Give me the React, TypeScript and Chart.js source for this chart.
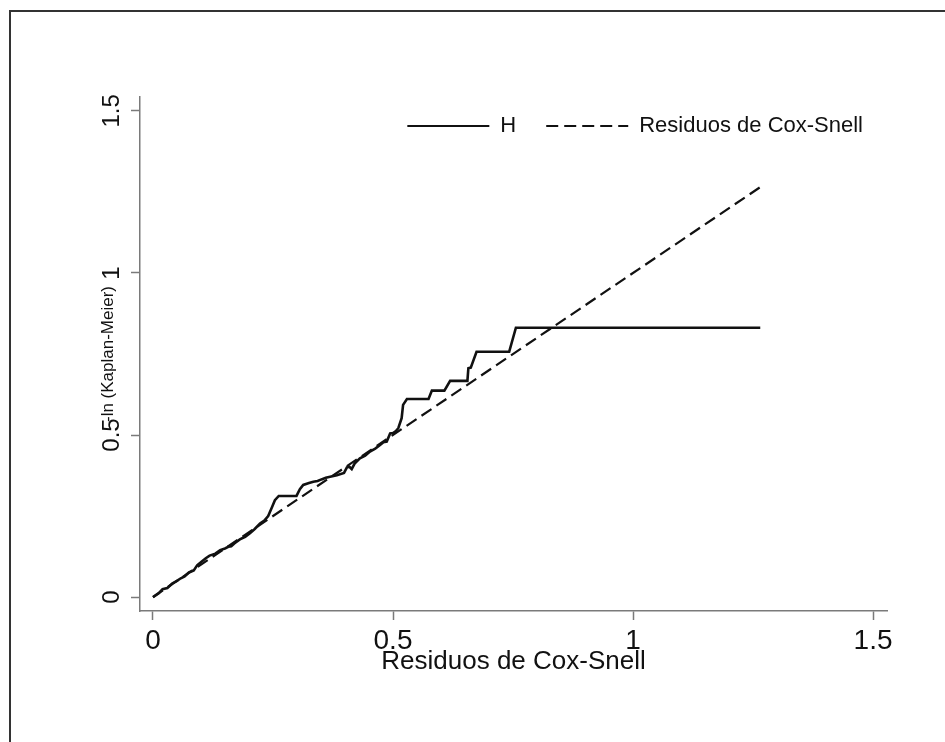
import { useEffect, useRef } from "react";
import { Chart, registerables } from "chart.js";

Chart.register(...registerables);

// Cox-Snell residuals (sorted) and the cumulative hazard H = -ln(KM) at each one
const coxSnell = [
  0.0, 0.012, 0.02, 0.03, 0.04, 0.05, 0.058, 0.066, 0.075, 0.085, 0.092, 0.101,
  0.11, 0.118, 0.13, 0.14, 0.15, 0.157, 0.163, 0.17, 0.181, 0.192, 0.202, 0.212,
  0.223, 0.232, 0.24, 0.247, 0.254, 0.262, 0.299, 0.306, 0.313, 0.325, 0.334,
  0.343, 0.351, 0.36, 0.369, 0.383, 0.398, 0.404, 0.409, 0.414, 0.42, 0.431,
  0.442, 0.452, 0.463, 0.473, 0.48, 0.487, 0.494, 0.5, 0.506, 0.511, 0.518,
  0.521, 0.529, 0.574, 0.581, 0.607, 0.619, 0.655, 0.657, 0.662, 0.674, 0.742,
  0.756, 1.265,
];
const cumHazard = [
  0.0, 0.012, 0.024, 0.028, 0.042, 0.05, 0.058, 0.064, 0.076, 0.082, 0.098, 0.109,
  0.12, 0.128, 0.134, 0.145, 0.15, 0.155, 0.157, 0.166, 0.178, 0.186, 0.197, 0.21,
  0.227, 0.236, 0.25, 0.274, 0.299, 0.312, 0.312, 0.333, 0.346, 0.352, 0.356,
  0.358, 0.363, 0.368, 0.371, 0.376, 0.383, 0.4, 0.402, 0.395, 0.412, 0.428,
  0.436, 0.449, 0.458, 0.469, 0.478, 0.48, 0.505, 0.506, 0.512, 0.521, 0.552,
  0.593, 0.611, 0.611, 0.637, 0.637, 0.667, 0.667, 0.706, 0.708, 0.757, 0.757,
  0.831, 0.831,
];

// 45-degree reference line (residual against itself)
const refX = [0, 1.265];
const refY = [0, 1.265];

const xTicks = [0, 0.5, 1, 1.5];
const yTicks = [0, 0.5, 1, 1.5];
const seriesNames = ["H", "Residuos de Cox-Snell"];
const xTitle = "Residuos de Cox-Snell";
const yTitle = "-ln (Kaplan-Meier)";

const FONT = "'Liberation Sans', Arial, sans-serif";
const AXIS_GREY = "#7a7a7a";

// Pull the legend row down into the plot region, just under its top edge.
const legendInPlot = {
  id: "legendInPlot",
  afterLayout(chart: any) {
    const lg = chart.legend;
    if (!lg) return;
    const area = chart.chartArea;
    const h = lg.height;
    lg.left = area.left;
    lg.right = area.right + 6;
    lg.width = lg.right - lg.left;
    lg.top = area.top - 12;
    lg.bottom = lg.top + h;
  },
};

export default function App() {
  const canvasRef = useRef<HTMLCanvasElement | null>(null);

  useEffect(() => {
    const canvas = canvasRef.current;
    if (!canvas) return;

    const defaultLabels = (Chart.defaults as any).plugins.legend.labels.generateLabels;

    const chart = new Chart(canvas, {
      type: "scatter",
      data: {
        datasets: [
          {
            label: seriesNames[0],
            data: coxSnell.map((x, i) => ({ x, y: cumHazard[i] })),
            showLine: true,
            borderColor: "#111111",
            backgroundColor: "rgba(0,0,0,0)",
            borderWidth: 2.6,
            pointRadius: 0,
            tension: 0,
          },
          {
            label: seriesNames[1],
            data: refX.map((x, i) => ({ x, y: refY[i] })),
            showLine: true,
            borderColor: "#111111",
            backgroundColor: "rgba(0,0,0,0)",
            borderWidth: 2.2,
            borderDash: [12, 6],
            pointRadius: 0,
            tension: 0,
          },
        ],
      },
      options: {
        animation: false,
        responsive: false,
        devicePixelRatio: 1,
        layout: { padding: { left: 0, right: 58, top: 35, bottom: 0 } },
        plugins: {
          tooltip: { enabled: false },
          legend: {
            display: true,
            position: "top",
            align: "end",
            labels: {
              usePointStyle: true,
              pointStyle: "line",
              pointStyleWidth: 82,
              boxHeight: 22,
              padding: 30,
              color: "#111111",
              font: { family: FONT, size: 22 },
              // legend samples take the line width and dash of their series
              generateLabels: (c: any) =>
                defaultLabels(c).map((item: any) => {
                  const ds = c.data.datasets[item.datasetIndex];
                  return {
                    ...item,
                    strokeStyle: ds.borderColor,
                    fillStyle: "rgba(0,0,0,0)",
                    lineWidth: 2,
                    lineDash: ds.borderDash || [],
                  };
                }),
            },
          },
        },
        scales: {
          x: {
            type: "linear",
            min: -0.027,
            max: 1.529,
            afterBuildTicks: (scale: any) => {
              scale.ticks = xTicks.map((v) => ({ value: v }));
            },
            afterFit: (scale: any) => {
              scale.height = 131;
            },
            border: { display: true, color: AXIS_GREY, width: 1.5 },
            grid: {
              drawOnChartArea: false,
              drawTicks: true,
              tickLength: 9,
              tickWidth: 1.5,
              tickColor: AXIS_GREY,
            },
            ticks: {
              autoSkip: false,
              maxRotation: 0,
              minRotation: 0,
              padding: 4,
              color: "#111111",
              font: { family: FONT, size: 28 },
              callback: (v: any) => String(v),
            },
            title: {
              display: true,
              text: xTitle,
              color: "#111111",
              font: { family: FONT, size: 26 },
              padding: { top: 0, bottom: 65 },
            },
          },
          y: {
            type: "linear",
            min: -0.043,
            max: 1.543,
            afterBuildTicks: (scale: any) => {
              scale.ticks = yTicks.map((v) => ({ value: v }));
            },
            afterFit: (scale: any) => {
              scale.width = 140;
            },
            border: { display: true, color: AXIS_GREY, width: 1.5 },
            grid: {
              drawOnChartArea: false,
              drawTicks: true,
              tickLength: 9,
              tickWidth: 1.5,
              tickColor: AXIS_GREY,
            },
            ticks: {
              autoSkip: false,
              minRotation: 90,
              maxRotation: 90,
              crossAlign: "center",
              padding: 2,
              color: "#111111",
              font: { family: FONT, size: 24 },
              callback: (v: any) => String(v),
            },
            title: {
              display: true,
              text: yTitle,
              color: "#111111",
              font: { family: FONT, size: 17 },
              padding: { top: 98, bottom: 0 },
            },
          },
        },
      },
      plugins: [legendInPlot],
    });

    return () => chart.destroy();
  }, []);

  return (
    <div
      style={{
        position: "fixed",
        left: 0,
        top: 0,
        width: 945,
        height: 742,
        overflow: "hidden",
        background: "#ffffff",
      }}
    >
      <canvas ref={canvasRef} width={945} height={742} style={{ display: "block" }} />
      <div
        style={{
          position: "absolute",
          left: 9,
          top: 10,
          width: 1000,
          height: 800,
          borderTop: "2px solid #333333",
          borderLeft: "2px solid #333333",
          pointerEvents: "none",
        }}
      />
    </div>
  );
}
